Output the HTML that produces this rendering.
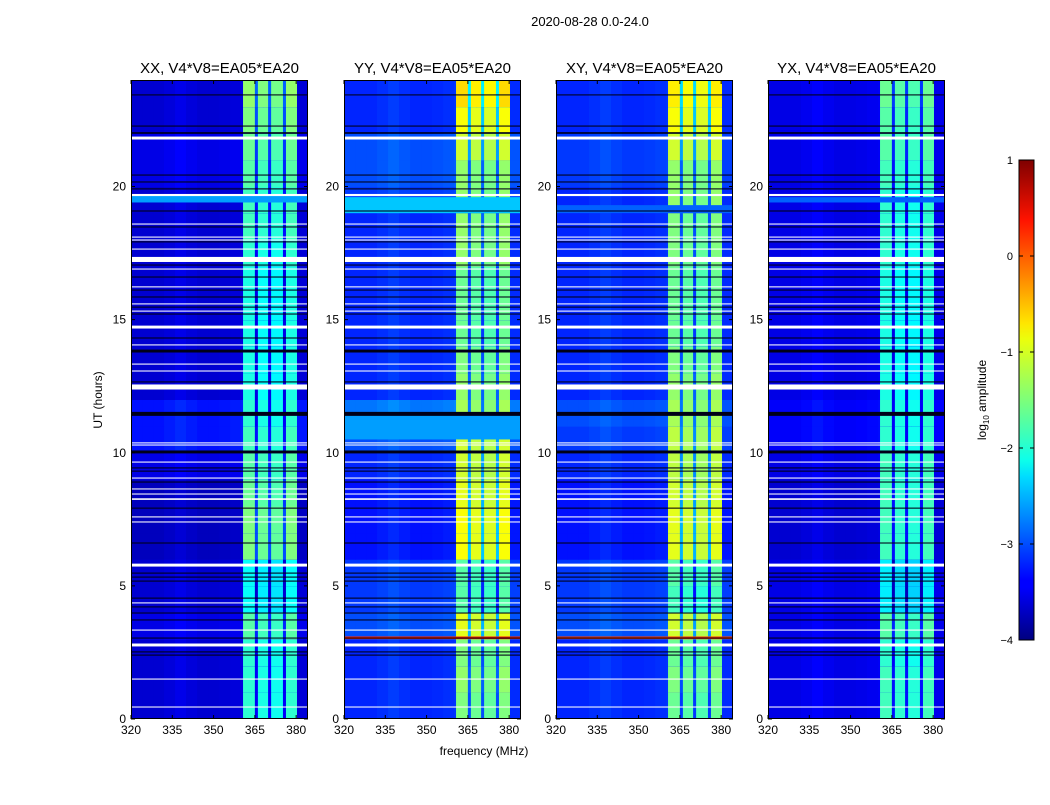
<!DOCTYPE html>
<html><head><meta charset="utf-8">
<style>
body{margin:0;background:#fff;width:1050px;height:800px;overflow:hidden;font-family:"Liberation Sans",sans-serif;}
svg text{font-family:"Liberation Sans",sans-serif;fill:#000;}
</style></head>
<body>
<svg id="fig" width="1050" height="800" viewBox="0 0 1050 800">
<defs>
<linearGradient id="jet" x1="0" y1="1" x2="0" y2="0">
<stop offset="0" stop-color="#00007f"/><stop offset="0.11" stop-color="#0000ff"/>
<stop offset="0.125" stop-color="#0000ff"/><stop offset="0.34" stop-color="#00dcff"/>
<stop offset="0.375" stop-color="#0dffea"/><stop offset="0.5" stop-color="#7dff7a"/>
<stop offset="0.625" stop-color="#eaff0d"/><stop offset="0.66" stop-color="#ffe600"/>
<stop offset="0.875" stop-color="#ff1300"/><stop offset="1" stop-color="#7f0000"/>
</linearGradient>
</defs>
<text x="590" y="26" font-size="13" text-anchor="middle">2020-08-28 0.0-24.0</text>
<g id="panels"></g>
<text x="484" y="755" font-size="12" text-anchor="middle">frequency (MHz)</text>
<text x="0" y="0" font-size="12" text-anchor="middle" transform="translate(102,400) rotate(-90)">UT (hours)</text>
<g id="cbar"></g>
<text x="0" y="0" font-size="12" text-anchor="middle" transform="translate(986,400) rotate(-90)">log<tspan font-size="8" dy="3">10</tspan><tspan dy="-3"> amplitude</tspan></text>
</svg>
<script>
const titles = ["XX, V4*V8=EA05*EA20","YY, V4*V8=EA05*EA20","XY, V4*V8=EA05*EA20","YX, V4*V8=EA05*EA20"];
const xTicks = [320,335,350,365,380];
const yTicks = [0,5,10,15,20];
const cbTicks = [1,0,-1,-2,-3,-4];
// sub-bands [start MHz, end MHz]
const subBands = [[360.7,365.0],[366.1,369.8],[370.9,375.2],[376.3,380.3]];
const subBandOffset = [0.1,0.0,-0.05,0.1];
// background frequency profile (4 MHz bins from 320)
const bgProfile = [0,0,0,0.05,0.12,0.05,0,0,0.02,0.05,0.08,0.12,0,0,0,0.03];
// hourly band level per panel
const bandXX = [-2.0,-2.0,-2.0,-1.8,-2.2,-2.2,-1.6,-1.6,-1.7,-1.8,-1.9,-2.0,-2.1,-2.1,-2.1,-2.1,-2.1,-2.0,-1.9,-1.9,-1.8,-1.7,-1.6,-1.5];
const bandYY = [-1.6,-1.5,-1.6,-1.1,-1.8,-1.8,-1.0,-1.0,-1.1,-1.2,-1.2,-1.4,-1.5,-1.6,-1.7,-1.7,-1.7,-1.5,-1.5,-1.5,-1.5,-1.2,-1.0,-0.8];
const bandXY = [-1.7,-1.6,-1.7,-1.2,-1.9,-1.8,-1.1,-1.1,-1.2,-1.3,-1.3,-1.4,-1.5,-1.6,-1.7,-1.7,-1.7,-1.6,-1.6,-1.5,-1.5,-1.2,-1.0,-0.9];
const bandYX = [-1.9,-1.9,-2.0,-1.8,-2.3,-2.3,-1.9,-1.9,-1.9,-1.9,-2.0,-2.0,-2.1,-2.1,-2.1,-2.1,-2.1,-2.0,-2.0,-2.0,-1.9,-1.8,-1.8,-1.7];
// hourly background level per panel
const bgXX = [-3.6,-3.6,-3.6,-3.5,-3.6,-3.6,-3.7,-3.7,-3.7,-3.5,-3.3,-3.3,-3.6,-3.6,-3.6,-3.6,-3.6,-3.6,-3.6,-3.6,-3.5,-3.5,-3.6,-3.6];
const bgYY = [-3.2,-3.2,-3.2,-3.0,-3.1,-3.1,-3.3,-3.3,-3.3,-3.2,-3.0,-2.8,-3.2,-3.2,-3.2,-3.2,-3.2,-3.2,-3.2,-3.1,-3.0,-3.0,-3.2,-3.2];
const bgXY = [-3.2,-3.2,-3.2,-3.0,-3.1,-3.1,-3.3,-3.3,-3.3,-3.2,-3.1,-3.0,-3.2,-3.2,-3.2,-3.2,-3.2,-3.2,-3.2,-3.2,-3.1,-3.1,-3.2,-3.2];
const bgYX = [-3.5,-3.5,-3.5,-3.5,-3.5,-3.5,-3.6,-3.6,-3.6,-3.5,-3.4,-3.4,-3.5,-3.5,-3.5,-3.5,-3.5,-3.5,-3.5,-3.5,-3.5,-3.5,-3.5,-3.5];
const bandSeries = [bandXX,bandYY,bandXY,bandYX];
const bgSeries = [bgXX,bgYY,bgXY,bgYX];
// special full-width rows: [panel, hour, duration, level]
const specialRows = [[0,19.4,0.25,-2.6],[1,19.0,0.6,-2.4],[2,19.0,0.3,-2.9],[1,10.5,1.0,-2.6],[1,3.0,0.1,0.2],[2,3.0,0.1,0.1],[3,19.4,0.2,-2.9]];
// flagged (white) rows [hour, duration]
const whiteRows = [[21.82,0.11],[19.68,0.08],[18.59,0.04],[18.10,0.04],[17.99,0.04],[17.65,0.04],[17.26,0.19],[16.90,0.04],[16.23,0.04],[15.59,0.04],[15.32,0.04],[14.72,0.11],[14.05,0.04],[13.33,0.04],[13.07,0.04],[12.47,0.19],[10.37,0.04],[10.29,0.04],[9.65,0.04],[9.05,0.04],[8.64,0.04],[8.45,0.04],[8.26,0.06],[7.59,0.04],[7.40,0.04],[5.78,0.11],[4.36,0.04],[3.34,0.04],[2.78,0.11],[1.50,0.04],[0.45,0.04]];
// dark rows [hour, duration]
const blackRows = [[23.44,0.04],[22.27,0.04],[22.01,0.06],[20.43,0.04],[20.17,0.04],[19.91,0.04],[19.08,0.04],[18.48,0.04],[17.92,0.04],[17.05,0.04],[16.60,0.04],[16.11,0.04],[15.85,0.04],[15.47,0.04],[15.21,0.04],[14.31,0.04],[13.82,0.11],[12.66,0.04],[11.46,0.15],[10.03,0.11],[9.43,0.04],[9.31,0.04],[8.90,0.04],[7.92,0.04],[6.61,0.04],[5.48,0.04],[5.33,0.04],[5.18,0.04],[4.54,0.04],[4.21,0.04],[3.98,0.04],[3.72,0.04],[3.04,0.04],[2.52,0.04],[2.40,0.04]];

const NS='http://www.w3.org/2000/svg';
const panelLeft=[131,344,556,768], PW=177, PT=80, PB=719;
const fMin=320, fMax=384.3, tMax=24, vMin=-4, vMax=1;
function jet(v){let t=(v-vMin)/(vMax-vMin);t=Math.max(0,Math.min(1,t));
 const c=x=>Math.round(255*Math.max(0,Math.min(1,x)));
 const r=c(1.5-Math.abs(4*t-3)),g=c(1.5-Math.abs(4*t-2)),b=c(1.5-Math.abs(4*t-1));
 return `rgb(${r},${g},${b})`;}
function mk(tag,attrs,parent){const e=document.createElementNS(NS,tag);for(const k in attrs)e.setAttribute(k,attrs[k]);parent.appendChild(e);return e;}
const root=document.getElementById('panels');
for(let p=0;p<4;p++){
 const L=panelLeft[p];
 const xs=f=>L+(f-fMin)/(fMax-fMin)*PW;
 const ys=h=>PB-h/tMax*(PB-PT);
 const g=mk('g',{},root);
 
 
 const clip=mk('clipPath',{id:'c'+p},g);
 mk('rect',{x:L,y:PT,width:PW,height:PB-PT},clip);
 const hm=mk('g',{'clip-path':'url(#c'+p+')'},g);
 
 
 for(let h=0;h<24;h++){
  const y0=ys(h+1),y1=ys(h);
  for(let b=0;b<bgProfile.length;b++){
   const r=mk('rect',{x:xs(fMin+4*b),y:y0,width:xs(fMin+4*b+4)-xs(fMin+4*b)+0.5,height:y1-y0+0.5,fill:jet(bgSeries[p][h]+bgProfile[b])},hm);
   
   
  }
  const gap=mk('rect',{x:xs(subBands[0][0]),y:y0,width:xs(subBands[3][1])-xs(subBands[0][0]),height:y1-y0+0.5,fill:jet(bandSeries[p][h]-1.4)},hm);
  
  
  subBands.forEach((sb,i)=>{
   const r=mk('rect',{x:xs(sb[0]),y:y0,width:xs(sb[1])-xs(sb[0]),height:y1-y0+0.5,fill:jet(bandSeries[p][h]+subBandOffset[i])},hm);
   
   
  });
 }
 specialRows.filter(s=>s[0]===p).forEach(s=>{
  const r=mk('rect',{x:L,y:ys(s[1]+s[2]),width:PW,height:Math.max(1,ys(s[1])-ys(s[1]+s[2])),fill:jet(s[3])},hm);
  
  
 });
 blackRows.forEach(s=>{
  const r=mk('rect',{x:L,y:ys(s[0]+s[1]/2),width:PW,height:Math.max(1,ys(s[0])-ys(s[0]+s[1])),fill:'#000018'},hm);
  
  
 });
 whiteRows.forEach(s=>{
  const r=mk('rect',{x:L,y:ys(s[0]+s[1]/2),width:PW,height:Math.max(1,ys(s[0])-ys(s[0]+s[1])),fill:'#ffffff'},hm);
  
  
 });
 const fr=mk('rect',{x:L+0.5,y:PT+0.5,width:PW-1,height:PB-PT-1,fill:'none',stroke:'#000','stroke-width':1},g);
 
 
 const tt=mk('text',{x:L+PW/2,y:73,'font-size':15,'text-anchor':'middle'},g);
 tt.textContent=titles[p];
 
 
 xTicks.forEach(v=>{
  const x=xs(v);
  mk('line',{x1:x,x2:x,y1:PB,y2:PB-4,stroke:'#000'},g);
  mk('line',{x1:x,x2:x,y1:PT,y2:PT+4,stroke:'#000'},g);
  const t=mk('text',{x:x,y:PB+15,'font-size':12,'text-anchor':'middle'},g);
  t.textContent=v;
  
  
 });
 yTicks.forEach(v=>{
  const y=ys(v);
  mk('line',{x1:L,x2:L+4,y1:y,y2:y,stroke:'#000'},g);
  mk('line',{x1:L+PW,x2:L+PW-4,y1:y,y2:y,stroke:'#000'},g);
  const t=mk('text',{x:L-5,y:y+4,'font-size':12,'text-anchor':'end'},g);
  t.textContent=v;
  
  
 });
}
const cb=document.getElementById('cbar');
const CT=160,CB=640,CL=1019,CW=15;
const cy=v=>CB-(v-vMin)/(vMax-vMin)*(CB-CT);
const cbr=mk('rect',{x:CL,y:CT,width:CW,height:CB-CT,fill:'url(#jet)',stroke:'#000','stroke-width':1},cb);


cbTicks.forEach(v=>{
 const y=cy(v);
 mk('line',{x1:CL,x2:CL+4,y1:y,y2:y,stroke:'#000'},cb);
 mk('line',{x1:CL+CW,x2:CL+CW-4,y1:y,y2:y,stroke:'#000'},cb);
 const t=mk('text',{x:1013,y:y+4,'font-size':11,'text-anchor':'end'},cb);
 t.textContent=v<0?'\u2212'+(-v):v;
 
 
});
</script>
</body></html>
